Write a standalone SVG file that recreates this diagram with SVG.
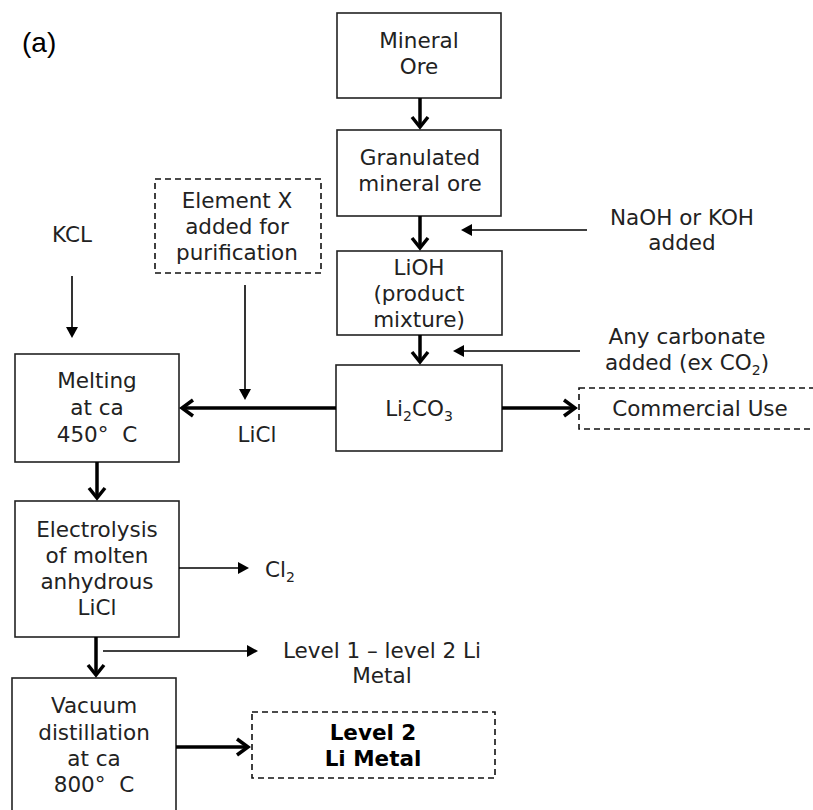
<svg xmlns="http://www.w3.org/2000/svg" width="813" height="810" viewBox="0 0 813 810">
  <style>
    .box { fill: #fff; stroke: #222; stroke-width: 1.6; }
    .dash { fill: #fff; stroke: #111; stroke-width: 1.6; stroke-dasharray: 6 4; }
    .t { font-family: "DejaVu Sans", Verdana, sans-serif; font-size: 21.5px; fill: #222; text-anchor: middle; }
    .tl { text-anchor: start; }
    .b { font-weight: bold; fill: #000; }
    .sub { font-size: 14px; }
    .thick { fill: none; stroke: #000; stroke-width: 3.5; }
    .thin { fill: none; stroke: #000; stroke-width: 1.6; }
    .head { fill: none; stroke: #000; stroke-width: 3.5; stroke-linejoin: miter; }
    .tri { fill: #000; }
  </style>

  <text x="22" y="52" font-family="Liberation Sans, Arial, sans-serif" font-size="28" fill="#000">(a)</text>

  <g id="mineral-ore">
    <rect class="box" x="337" y="13" width="164" height="85"/>
    <text class="t" x="419" y="48">Mineral</text>
    <text class="t" x="419" y="74">Ore</text>
  </g>

  <g id="granulated">
    <rect class="box" x="337" y="130" width="164" height="86"/>
    <text class="t" x="420" y="165">Granulated</text>
    <text class="t" x="420" y="191">mineral ore</text>
  </g>

  <g id="lioh">
    <rect class="box" x="337" y="251" width="165" height="84"/>
    <text class="t" x="419" y="275">LiOH</text>
    <text class="t" x="419" y="301">(product</text>
    <text class="t" x="419" y="327">mixture)</text>
  </g>

  <g id="li2co3">
    <rect class="box" x="336" y="365" width="166" height="86"/>
    <text class="t" x="419" y="416">Li<tspan class="sub" dy="5">2</tspan><tspan dy="-5">CO</tspan><tspan class="sub" dy="5">3</tspan></text>
  </g>

  <g id="commercial-use">
    <rect class="dash" x="579" y="388" width="240" height="41"/>
    <text class="t" x="700" y="416">Commercial Use</text>
  </g>

  <g id="element-x">
    <rect class="dash" x="155" y="179" width="166" height="94"/>
    <text class="t" x="237" y="208">Element X</text>
    <text class="t" x="237" y="234">added for</text>
    <text class="t" x="237" y="260">purification</text>
  </g>

  <g id="kcl">
    <text class="t" x="72" y="242">KCL</text>
  </g>

  <g id="naoh">
    <text class="t" x="682" y="225">NaOH or KOH</text>
    <text class="t" x="682" y="250">added</text>
  </g>

  <g id="carbonate">
    <text class="t" x="687" y="344">Any carbonate</text>
    <text class="t" x="687" y="370">added (ex CO<tspan class="sub" dy="5">2</tspan><tspan dy="-5">)</tspan></text>
  </g>

  <g id="melting">
    <rect class="box" x="15" y="354" width="164" height="108"/>
    <text class="t" x="97" y="388">Melting</text>
    <text class="t" x="97" y="415">at ca</text>
    <text class="t" x="97" y="442">450°&#160; C</text>
  </g>

  <g id="licl-label">
    <text class="t" x="257" y="442">LiCl</text>
  </g>

  <g id="electrolysis">
    <rect class="box" x="15" y="501" width="164" height="136"/>
    <text class="t" x="97" y="537">Electrolysis</text>
    <text class="t" x="97" y="563">of molten</text>
    <text class="t" x="97" y="589">anhydrous</text>
    <text class="t" x="97" y="615">LiCl</text>
  </g>

  <g id="cl2">
    <text class="t tl" x="265" y="577">Cl<tspan class="sub" dy="5">2</tspan></text>
  </g>

  <g id="level1">
    <text class="t" x="382" y="658">Level 1 – level 2 Li</text>
    <text class="t" x="382" y="683">Metal</text>
  </g>

  <g id="vacuum">
    <rect class="box" x="12" y="678" width="164" height="140"/>
    <text class="t" x="94" y="713">Vacuum</text>
    <text class="t" x="94" y="740">distillation</text>
    <text class="t" x="94" y="766">at ca</text>
    <text class="t" x="94" y="792">800°&#160; C</text>
  </g>

  <g id="level2">
    <rect class="dash" x="252" y="712" width="243" height="66"/>
    <text class="t b" x="373" y="740">Level 2</text>
    <text class="t b" x="373" y="766">Li Metal</text>
  </g>

  <g id="connectors">
    <!-- main flow, thick with open heads -->
    <line class="thick" x1="420" y1="98" x2="420" y2="127"/>
    <polyline class="head" points="412,117 420,127 428,117"/>
    <line class="thick" x1="420" y1="216" x2="420" y2="248"/>
    <polyline class="head" points="412,238 420,248 428,238"/>
    <line class="thick" x1="420" y1="335" x2="420" y2="362"/>
    <polyline class="head" points="412,352 420,362 428,352"/>

    <line class="thick" x1="336" y1="408" x2="182" y2="408"/>
    <polyline class="head" points="193,400 182,408 193,416"/>
    <line class="thick" x1="502" y1="408" x2="575" y2="408"/>
    <polyline class="head" points="564,400 575,408 564,416"/>

    <line class="thick" x1="97" y1="462" x2="97" y2="498"/>
    <polyline class="head" points="89,488 97,498 105,488"/>
    <line class="thick" x1="96" y1="637" x2="96" y2="675"/>
    <polyline class="head" points="88,665 96,675 104,665"/>
    <line class="thick" x1="176" y1="747" x2="248" y2="747"/>
    <polyline class="head" points="237,739 248,747 237,755"/>

    <!-- side inputs and outputs, thin with solid heads -->
    <line class="thin" x1="587" y1="230" x2="470" y2="230"/>
    <polygon class="tri" points="461,230 472,224 472,236"/>
    <line class="thin" x1="580" y1="351" x2="462" y2="351"/>
    <polygon class="tri" points="453,351 464,345 464,357"/>
    <line class="thin" x1="72" y1="276" x2="72" y2="328"/>
    <polygon class="tri" points="72,338 66,327 78,327"/>
    <line class="thin" x1="245" y1="285" x2="245" y2="390"/>
    <polygon class="tri" points="245,400 239,389 251,389"/>
    <line class="thin" x1="179" y1="568" x2="239" y2="568"/>
    <polygon class="tri" points="249,568 238,562 238,574"/>
    <line class="thin" x1="103" y1="651" x2="248" y2="651"/>
    <polygon class="tri" points="258,651 247,645 247,657"/>
  </g>
</svg>
